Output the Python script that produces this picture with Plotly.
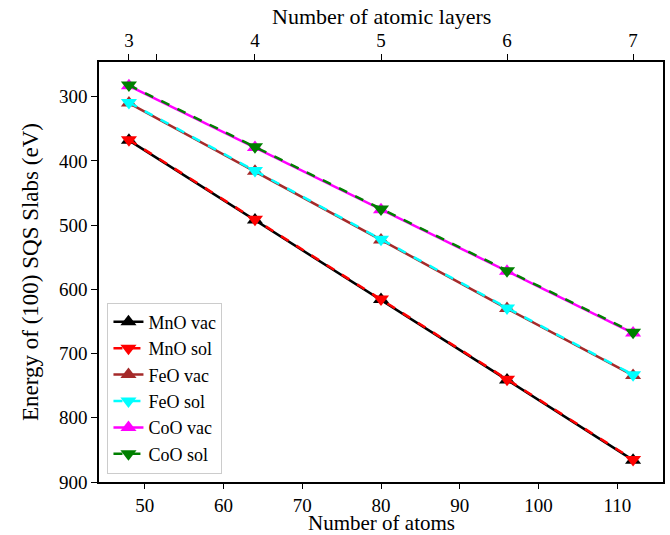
import plotly.graph_objects as go

atoms = [48, 64, 80, 96, 112]
layers = ["3", "4", "5", "6", "7"]

mno_vac = [368, 492, 616, 741, 866]
mno_sol = [367, 491, 615, 740, 865]
feo_vac = [310, 416, 523, 630, 734]
feo_sol = [309, 415, 522, 629, 733]
coo_vac = [283, 379, 476, 572, 668]
coo_sol = [282, 378, 475, 571, 667]

series = [
    ("MnO vac", mno_vac, "black", "solid", "triangle-up"),
    ("MnO sol", mno_sol, "red", "dash", "triangle-down"),
    ("FeO vac", feo_vac, "#a52a2a", "solid", "triangle-up"),
    ("FeO sol", feo_sol, "cyan", "dash", "triangle-down"),
    ("CoO vac", coo_vac, "magenta", "solid", "triangle-up"),
    ("CoO sol", coo_sol, "green", "dash", "triangle-down"),
]

font = "Liberation Serif, Times New Roman, serif"
fig = go.Figure()
for name, vals, color, dash, sym in series:
    fig.add_trace(go.Scatter(
        x=atoms, y=vals, name=name, mode="lines+markers",
        line=dict(color=color, width=2.5, dash=dash),
        marker=dict(symbol=sym, size=14, color=color),
    ))

# invisible trace for the top axis
fig.add_trace(go.Scatter(x=atoms, y=mno_vac, xaxis="x2", mode="markers",
                         marker=dict(opacity=0), showlegend=False, hoverinfo="skip"))

xr = [44.2, 115.8]
fig.update_layout(
    width=670, height=535,
    margin=dict(l=99, r=7, t=62, b=53, autoexpand=False),
    paper_bgcolor="white", plot_bgcolor="white",
    font=dict(family=font, size=20, color="black"),
    xaxis=dict(range=xr, tickvals=[50, 60, 70, 80, 90, 100, 110],
               ticks="outside", ticklen=5, tickcolor="black",
               showline=True, linecolor="black", linewidth=1.5,
               showgrid=False, zeroline=False, automargin=False,
               tickfont=dict(size=19)),
    xaxis2=dict(range=xr, overlaying="x", side="top",
                tickvals=[48, 51.45, 64, 80, 96, 112],
                ticktext=["3", "", "4", "5", "6", "7"],
                ticks="outside", ticklen=6, tickcolor="black",
                showline=True, linecolor="black", linewidth=1.5,
                showgrid=False, zeroline=False, automargin=False,
                tickfont=dict(size=19)),
    yaxis=dict(range=[900, 246], tickvals=[300, 400, 500, 600, 700, 800, 900],
               ticks="outside", ticklen=6, tickcolor="black",
               showline=True, linecolor="black", linewidth=1.5, mirror=True,
               showgrid=False, zeroline=False, automargin=False,
               tickfont=dict(size=19)),
    legend=dict(x=0.015, y=0.02, xanchor="left", yanchor="bottom",
                bordercolor="#cccccc", borderwidth=1, bgcolor="rgba(255,255,255,0.8)",
                font=dict(size=18), tracegroupgap=0, itemwidth=30),
    showlegend=True,
    annotations=[
        dict(text="Number of atoms", x=0.5, y=0, xref="paper", yref="paper",
             xanchor="center", yanchor="middle", yshift=-41, showarrow=False,
             borderpad=0, font=dict(size=21)),
        dict(text="Number of atomic layers", x=0.5, y=1, xref="paper", yref="paper",
             xanchor="center", yanchor="middle", yshift=46, showarrow=False,
             borderpad=0, font=dict(size=22)),
        dict(text="Energy of (100) SQS Slabs (eV)", x=0, y=0.5, xref="paper", yref="paper",
             xanchor="center", yanchor="middle", xshift=-69, textangle=-90,
             borderpad=0, showarrow=False, font=dict(size=23)),
    ],
)

fig.write_html("out.html")
